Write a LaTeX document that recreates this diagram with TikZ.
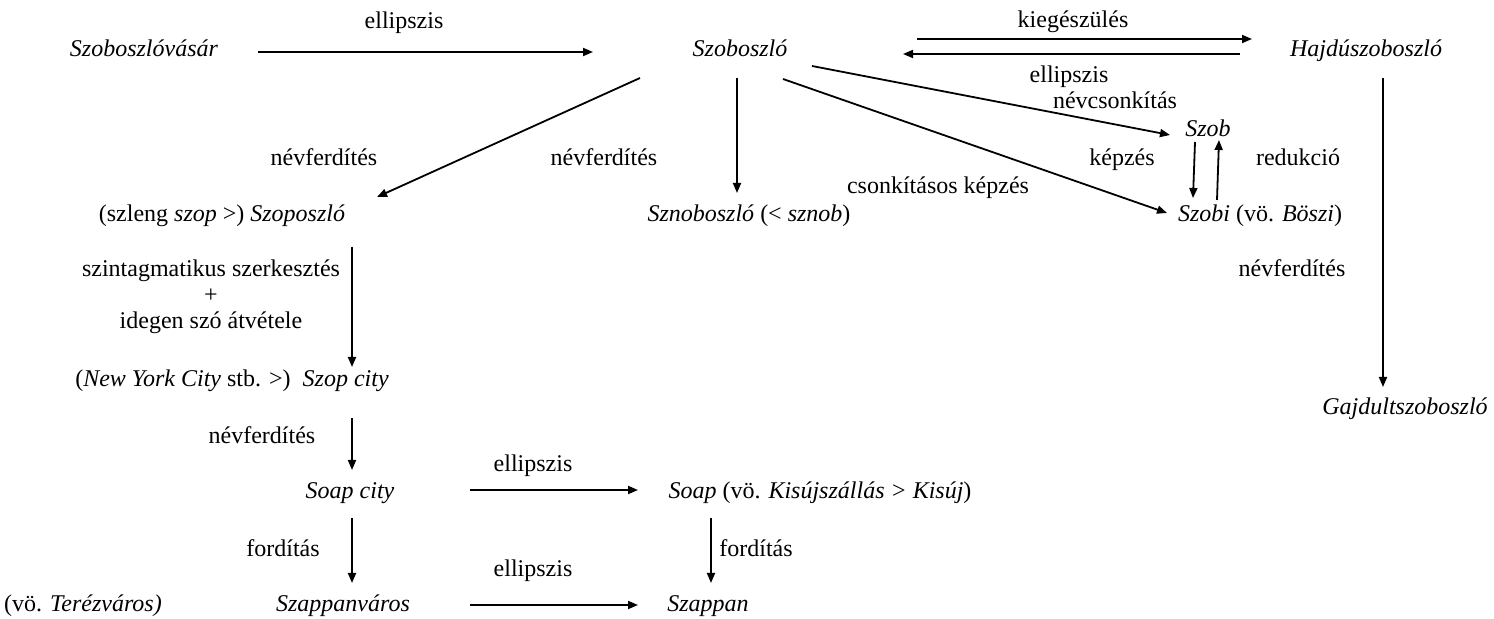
\documentclass[tikz,border=0pt]{standalone}
\usepackage{fontspec}
\setmainfont{LiberationSerif}[Extension=.ttf, UprightFont=*-Regular, ItalicFont=*-Italic, BoldFont=*-Bold]
\usetikzlibrary{arrows.meta}

\begin{document}
\begin{tikzpicture}[
		x=0.5pt, y=-0.5pt,
		line width=0.9pt,
		>={Triangle[length=5pt,width=4pt]},
		every node/.style={inner sep=0pt, anchor=base, font=\rmfamily\fontsize{12}{13}\selectfont},
		word/.style={font=\rmfamily\fontsize{12}{13}\selectfont\itshape},
		lbl/.style={}
	]

		\fill[white] (0,0) rectangle (1494,619);
		\useasboundingbox (0,0) rectangle (1494,619);

		% Names
		\node[word] (vasar) at (144, 57) {Szoboszlóvásár};
		\node[word] (szob) at (740, 57) {Szoboszló};
		\node[word] (hajdu) at (1366, 57) {Hajdúszoboszló};
		\node[word] (szb) at (1208, 137) {Szob};
		\node (szobi) at (1260, 222) {\textit{Szobi} (vö. \textit{Böszi})};
		\node (szopo) at (222, 222) {(szleng \textit{szop} >) \textit{Szoposzló}};
		\node (sznob) at (749, 222) {\textit{Sznoboszló} (< \textit{sznob})};
		\node[word] (gajd) at (1405, 415) {Gajdultszoboszló};
		\node (szopcity) at (232, 387) {(\textit{New York City} stb. >)\ \ \textit{Szop city}};
		\node[word] (soapcity) at (350, 499) {Soap city};
		\node (soap) at (820, 499) {\textit{Soap} (vö. \textit{Kisújszállás > Kisúj})};
		\node[word] (szapvaros) at (343, 611) {Szappanváros};
		\node[word] (szappan) at (708, 611) {Szappan};
		\node (terez) at (83, 611) {(vö. \textit{Terézváros)}};

		% Labels
		\node[lbl] (l-ell1) at (404, 29) {ellipszis};
		\node[lbl] (l-kieg) at (1073, 28) {kiegészülés};
		\node[lbl] (l-ell2) at (1069, 83) {ellipszis};
		\node[lbl] (l-csonk) at (1115, 109) {névcsonkítás};
		\node[lbl] (l-kepz) at (1122, 166) {képzés};
		\node[lbl] (l-red) at (1298, 166) {redukció};
		\node[lbl] (l-csk) at (938, 194) {csonkításos képzés};
		\node[lbl] (l-nf1) at (324, 166) {névferdítés};
		\node[lbl] (l-nf2) at (604, 166) {névferdítés};
		\node[lbl] (l-nf3) at (1292, 277) {névferdítés};
		\node[lbl, anchor=center, align=center] (l-szint) at (211, 297)
			{szintagmatikus szerkesztés\\+\\idegen szó átvétele};
		\node[lbl] (l-nf4) at (262, 444) {névferdítés};
		\node[lbl] (l-ell3) at (533, 472) {ellipszis};
		\node[lbl] (l-ford1) at (283, 557) {fordítás};
		\node[lbl] (l-ford2) at (756, 557) {fordítás};
		\node[lbl] (l-ell4) at (533, 577) {ellipszis};

		% Derivations
		\draw[->] ([shift={(114,-5)}]vasar.base) -- ([shift={(-147,-5)}]szob.base);
		\draw[->] ([shift={(177,-18)}]szob.base) -- ([shift={(-114,-18)}]hajdu.base);
		\draw[->] ([shift={(-126,-3)}]hajdu.base) -- ([shift={(163,-3)}]szob.base);
		\draw[->] ([shift={(72,9)}]szob.base) -- ([shift={(-38,-2)}]szb.base);
		\draw[->] ([shift={(43,22)}]szob.base) -- ([shift={(-93,-9)}]szobi.base);
		\draw[->] ([shift={(-100,21)}]szob.base) -- ([shift={(155,-25)}]szopo.base);
		\draw[->] ([shift={(-3,21)}]szob.base) -- ([shift={(-12,-29)}]sznob.base);
		\draw[->] ([shift={(-13,5)}]szb.base) -- ([shift={(-67,-24)}]szobi.base);
		\draw[->] ([shift={(-43,-22)}]szobi.base) -- ([shift={(11,3)}]szb.base);
		\draw[->] ([shift={(17,21)}]hajdu.base) -- ([shift={(-22,-28)}]gajd.base);
		\draw[->] ([shift={(130,25)}]szopo.base) -- ([shift={(120,-20)}]szopcity.base);
		\draw[->] ([shift={(120,31)}]szopcity.base) -- ([shift={(2,-29)}]soapcity.base);
		\draw[->] ([shift={(120,-9)}]soapcity.base) -- ([shift={(-182,-9)}]soap.base);
		\draw[->] ([shift={(2,19)}]soapcity.base) -- ([shift={(9,-28)}]szapvaros.base);
		\draw[->] ([shift={(-109,19)}]soap.base) -- ([shift={(3,-28)}]szappan.base);
		\draw[->] ([shift={(127,-6)}]szapvaros.base) -- ([shift={(-70,-6)}]szappan.base);
	\end{tikzpicture}
\end{document}
